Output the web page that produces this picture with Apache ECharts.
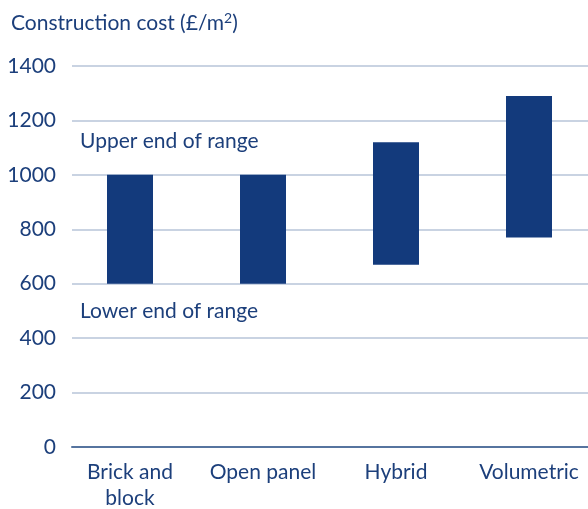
<!DOCTYPE html>
<html>
<head>
<meta charset="utf-8">
<script src="https://cdn.jsdelivr.net/npm/echarts@6/dist/echarts.min.js"></script>
<style>
  html, body { margin: 0; padding: 0; background: #fff; }
  #chart { width: 588px; height: 509px; }
</style>
</head>
<body>
<div id="chart"></div>
<script>
// data
const categories = ['Brick and\nblock', 'Open panel', 'Hybrid', 'Volumetric']
const lowerEnd = [600, 600, 670, 770]
const upperEnd = [1000, 1000, 1120, 1290]
const yTicks = { min: 0, max: 1400, interval: 200 }

const textColor = '#1c3f7b'
const barColor = '#133a7c'
const fontFamily = 'Lato, "Open Sans", sans-serif'

const chart = echarts.init(document.getElementById('chart'))

const option = {
  backgroundColor: '#fff',
  animation: false,
  textStyle: { fontFamily: fontFamily, color: textColor },
  title: {
    text: 'Construction cost (£/m{sup|2})',
    left: 6,
    top: 6,
    textStyle: {
      fontFamily: fontFamily,
      fontWeight: 'normal',
      fontSize: 21,
      color: textColor,
      rich: {
        sup: { fontSize: 14, verticalAlign: 'top', padding: [0, 0, 10, 0], color: textColor, fontFamily: fontFamily }
      }
    }
  },
  grid: [
    // grid for axis lines and value labels
    { left: 72, right: 0, top: 66, bottom: 62, outerBoundsMode: 'none' },
    // grid for bars (category bands are wider than the plotted area)
    { left: 63.5, width: 532, top: 66, bottom: 62, outerBoundsMode: 'none' },
  ],
  xAxis: [
    {
      type: 'category',
      gridIndex: 0,
      data: categories,
      axisLine: { show: true, lineStyle: { color: '#56749f', width: 2 } },
      axisTick: { show: false },
      axisLabel: { show: false },
    },
    {
      type: 'category',
      gridIndex: 1,
      data: categories,
      axisLine: { show: false },
      axisTick: { show: false },
      axisLabel: {
        interval: 0,
        color: textColor,
        fontSize: 21,
        lineHeight: 26,
        margin: 12,
        fontFamily: fontFamily,
        hideOverlap: false,
      },
    },
  ],
  yAxis: [
    {
      type: 'value',
      gridIndex: 0,
      min: yTicks.min,
      max: yTicks.max,
      interval: yTicks.interval,
      axisLine: { show: false },
      axisTick: { show: false },
      axisLabel: {
        color: textColor,
        fontSize: 21,
        margin: 16,
        fontFamily: fontFamily,
        formatter: v => String(v),
      },
      splitLine: { lineStyle: { color: '#c9d3e2', width: 2 } },
    },
    {
      type: 'value',
      gridIndex: 1,
      min: yTicks.min,
      max: yTicks.max,
      interval: yTicks.interval,
      show: false,
      splitLine: { show: false },
    },
  ],
  graphic: [
    {
      type: 'text',
      left: 80,
      top: 131,
      style: { text: 'Upper end of range', fill: textColor, fontSize: 21, fontFamily: fontFamily },
    },
    {
      type: 'text',
      left: 80,
      top: 301,
      style: { text: 'Lower end of range', fill: textColor, fontSize: 21, fontFamily: fontFamily },
    },
  ],
  series: [
    {
      name: 'base',
      type: 'bar',
      xAxisIndex: 1,
      yAxisIndex: 1,
      stack: 'range',
      barWidth: 46,
      itemStyle: { color: 'transparent' },
      data: lowerEnd,
    },
    {
      name: 'range',
      type: 'bar',
      xAxisIndex: 1,
      yAxisIndex: 1,
      stack: 'range',
      barWidth: 46,
      itemStyle: { color: barColor },
      data: upperEnd.map((v, i) => v - lowerEnd[i]),
    },
  ],
}

chart.setOption(option)
</script>
</body>
</html>
